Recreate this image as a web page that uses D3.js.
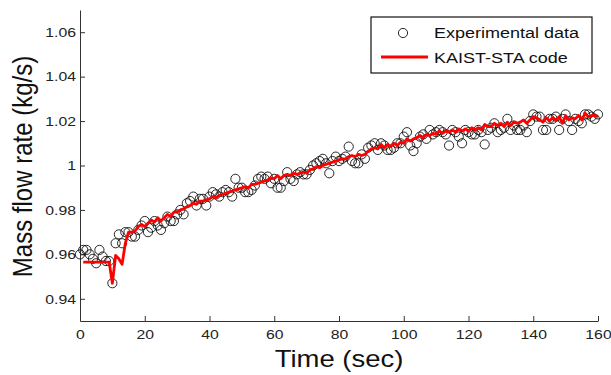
<!DOCTYPE html>
<html>
<head>
<meta charset="utf-8">
<script src="https://cdn.jsdelivr.net/npm/d3@7"></script>
<style>
  body { margin: 0; background: #fff; }
  text { font-family: "Liberation Sans", Arial, sans-serif; }
</style>
</head>
<body>
<div id="chart"></div>
<script>
// experimental points, one per second from t = 0
var expValues = [
  0.960, 0.962, 0.962, 0.960, 0.958, 0.956, 0.962, 0.959, 0.957, 0.957,
  0.947, 0.965, 0.969, 0.965, 0.970, 0.970, 0.968, 0.968, 0.971, 0.973,
  0.975, 0.970, 0.972, 0.975, 0.973, 0.971, 0.974, 0.977, 0.975, 0.975,
  0.978, 0.980, 0.978, 0.983, 0.984, 0.986, 0.982, 0.985, 0.985, 0.982,
  0.986, 0.988, 0.987, 0.986, 0.988, 0.989, 0.988, 0.986, 0.994, 0.990,
  0.990, 0.988, 0.988, 0.989, 0.991, 0.994, 0.995, 0.994, 0.995, 0.992,
  0.994, 0.990, 0.990, 0.993, 0.997, 0.994, 0.993, 0.996, 0.997, 0.996,
  0.996, 0.998, 1.000, 1.001, 1.002, 1.003, 1.001, 0.9965, 1.002, 1.004,
  1.002, 1.003, 1.004, 1.0085, 1.002, 1.001, 1.001, 1.005, 1.003, 1.008,
  1.009, 1.010, 1.007, 1.010, 1.009, 1.007, 1.007, 1.008, 1.010, 1.010,
  1.013, 1.015, 1.009, 1.0065, 1.010, 1.013, 1.014, 1.012, 1.016, 1.014,
  1.015, 1.016, 1.015, 1.014, 1.009, 1.016, 1.015, 1.013, 1.010, 1.016,
  1.015, 1.014, 1.014, 1.016, 1.015, 1.0095, 1.016, 1.017, 1.019, 1.015,
  1.016, 1.017, 1.021, 1.016, 1.018, 1.016, 1.016, 1.018, 1.015, 1.020,
  1.023, 1.022, 1.022, 1.016, 1.016, 1.021, 1.021, 1.022, 1.016, 1.021,
  1.023, 1.020, 1.016, 1.021, 1.020, 1.019, 1.023, 1.023, 1.022, 1.021,
  1.023
];

// code result, one per second from t = 1
var codeValues = [
  0.9565, 0.9565, 0.9565, 0.9565, 0.9565, 0.9565, 0.9565, 0.9565, 0.9565,
  0.947, 0.9595, 0.958, 0.9555, 0.965, 0.970, 0.970, 0.9705, 0.9725, 0.9735,
  0.9725, 0.974, 0.9755, 0.9745, 0.9765, 0.975, 0.9765, 0.978, 0.977, 0.979,
  0.979, 0.980, 0.9805, 0.9815, 0.982, 0.983, 0.9825, 0.984, 0.984, 0.9845,
  0.985, 0.986, 0.9855, 0.9865, 0.987, 0.9875, 0.988, 0.9885, 0.989, 0.9895,
  0.990, 0.9905, 0.990, 0.9915, 0.9915, 0.992, 0.9925, 0.993, 0.9935, 0.9945,
  0.994, 0.9955, 0.994, 0.9955, 0.996, 0.9955, 0.9965, 0.996, 0.9965, 0.997,
  0.9965, 0.998, 0.9985, 0.9995, 0.999, 1.000, 1.0005, 1.001, 1.0015, 1.002,
  1.0025, 1.003, 1.003, 1.004, 1.0045, 1.004, 1.005, 1.0045, 1.005, 1.0065,
  1.0075, 1.008, 1.0075, 1.0095, 1.008, 1.0095, 1.0085, 1.010, 1.009, 1.0105,
  1.010, 1.012, 1.011, 1.012, 1.0125, 1.0135, 1.0125, 1.014, 1.0135, 1.0145,
  1.014, 1.0155, 1.0145, 1.0155, 1.015, 1.016, 1.015, 1.0165, 1.0155, 1.0165,
  1.0155, 1.017, 1.016, 1.017, 1.016, 1.0185, 1.0175, 1.0175, 1.019, 1.018,
  1.019, 1.0175, 1.0195, 1.018, 1.0195, 1.019, 1.0195, 1.0205, 1.019, 1.0205,
  1.022, 1.0215, 1.0205, 1.0195, 1.0215, 1.020, 1.0215, 1.0205, 1.022, 1.019,
  1.0225, 1.0205, 1.0215, 1.021, 1.0225, 1.0205, 1.0235, 1.022, 1.0225, 1.0225,
  1.022
];

var xTicks = [0, 20, 40, 60, 80, 100, 120, 140, 160];
var yTicks = [0.94, 0.96, 0.98, 1, 1.02, 1.04, 1.06];
var legendLabels = ["Experimental data", "KAIST-STA code"];

var W = 611, H = 375;
var margin = {top: 10, right: 13, bottom: 54, left: 80};
var width = W - margin.left - margin.right,
    height = H - margin.top - margin.bottom;
var sx = 1.17; // the source figure is a bit wider than tall, so text is stretched

var svg = d3.select("#chart").append("svg")
    .attr("width", W)
    .attr("height", H);

var g = svg.append("g")
    .attr("transform", "translate(" + margin.left + "," + margin.top + ")");

var x = d3.scaleLinear().domain([0, 160]).range([0, width]);
var y = d3.scaleLinear().domain([0.93, 1.07]).range([height, 0]);

// axes, ticks pointing inward like matlab
var xAxis = g.append("g")
    .attr("transform", "translate(0," + height + ")")
    .call(d3.axisBottom(x).tickValues(xTicks).tickSizeInner(-5).tickSizeOuter(0).tickPadding(8));
var yAxis = g.append("g")
    .call(d3.axisLeft(y).tickValues(yTicks).tickSizeInner(-5).tickSizeOuter(0).tickPadding(4)
        .tickFormat(function(d) { return d === 1 ? "1" : d3.format(".2f")(d); }));

[xAxis, yAxis].forEach(function(a) {
    a.select(".domain").attr("stroke", "#333").attr("stroke-width", 1);
    a.selectAll(".tick line").attr("stroke", "#333");
    a.selectAll(".tick text").attr("font-size", 13.5).attr("fill", "#222")
        .attr("transform", "scale(" + sx + ",1)");
});
yAxis.selectAll(".tick text").attr("x", -4 / sx);

// experimental circles
var expData = expValues.map(function(v, i) { return {t: i, v: v}; });
g.append("g").selectAll("circle")
    .data(expData)
    .enter().append("circle")
    .attr("cx", function(d) { return x(d.t); })
    .attr("cy", function(d) { return y(d.v); })
    .attr("r", 4.6)
    .attr("fill", "none")
    .attr("stroke", "#111")
    .attr("stroke-width", 0.9);

// code line
var codeData = codeValues.map(function(v, i) { return {t: i + 1, v: v}; });
g.append("path")
    .datum(codeData)
    .attr("d", d3.line()
        .x(function(d) { return x(d.t); })
        .y(function(d) { return y(d.v); }))
    .attr("fill", "none")
    .attr("stroke", "#ff0000")
    .attr("stroke-width", 2.8)
    .attr("stroke-linejoin", "round");

// axis titles
svg.append("text")
    .attr("transform", "translate(" + (margin.left + width / 2) + ",367) scale(" + sx + ",1)")
    .attr("text-anchor", "middle")
    .attr("font-size", 23.5)
    .attr("fill", "#111")
    .text("Time (sec)");

svg.append("text")
    .attr("transform", "translate(32," + (margin.top + height / 2 + 1) + ") rotate(-90) scale(1," + sx + ")")
    .attr("text-anchor", "middle")
    .attr("font-size", 24)
    .attr("fill", "#111")
    .text("Mass flow rate (kg/s)");

// legend
var legend = svg.append("g").attr("transform", "translate(371,17)");
legend.append("rect")
    .attr("width", 221)
    .attr("height", 56)
    .attr("fill", "#fff")
    .attr("stroke", "#111")
    .attr("stroke-width", 1.2);
legend.append("circle")
    .attr("cx", 32).attr("cy", 16).attr("r", 4.6)
    .attr("fill", "none").attr("stroke", "#111").attr("stroke-width", 0.9);
legend.append("line")
    .attr("x1", 10).attr("x2", 57).attr("y1", 40).attr("y2", 40)
    .attr("stroke", "#ff0000").attr("stroke-width", 2.8);
legend.selectAll("text.lab")
    .data(legendLabels)
    .enter().append("text")
    .attr("class", "lab")
    .attr("transform", function(d, i) { return "translate(63," + (21 + i * 25) + ") scale(" + sx + ",1)"; })
    .attr("font-size", 15.4)
    .attr("fill", "#111")
    .text(function(d) { return d; });
</script>
</body>
</html>
